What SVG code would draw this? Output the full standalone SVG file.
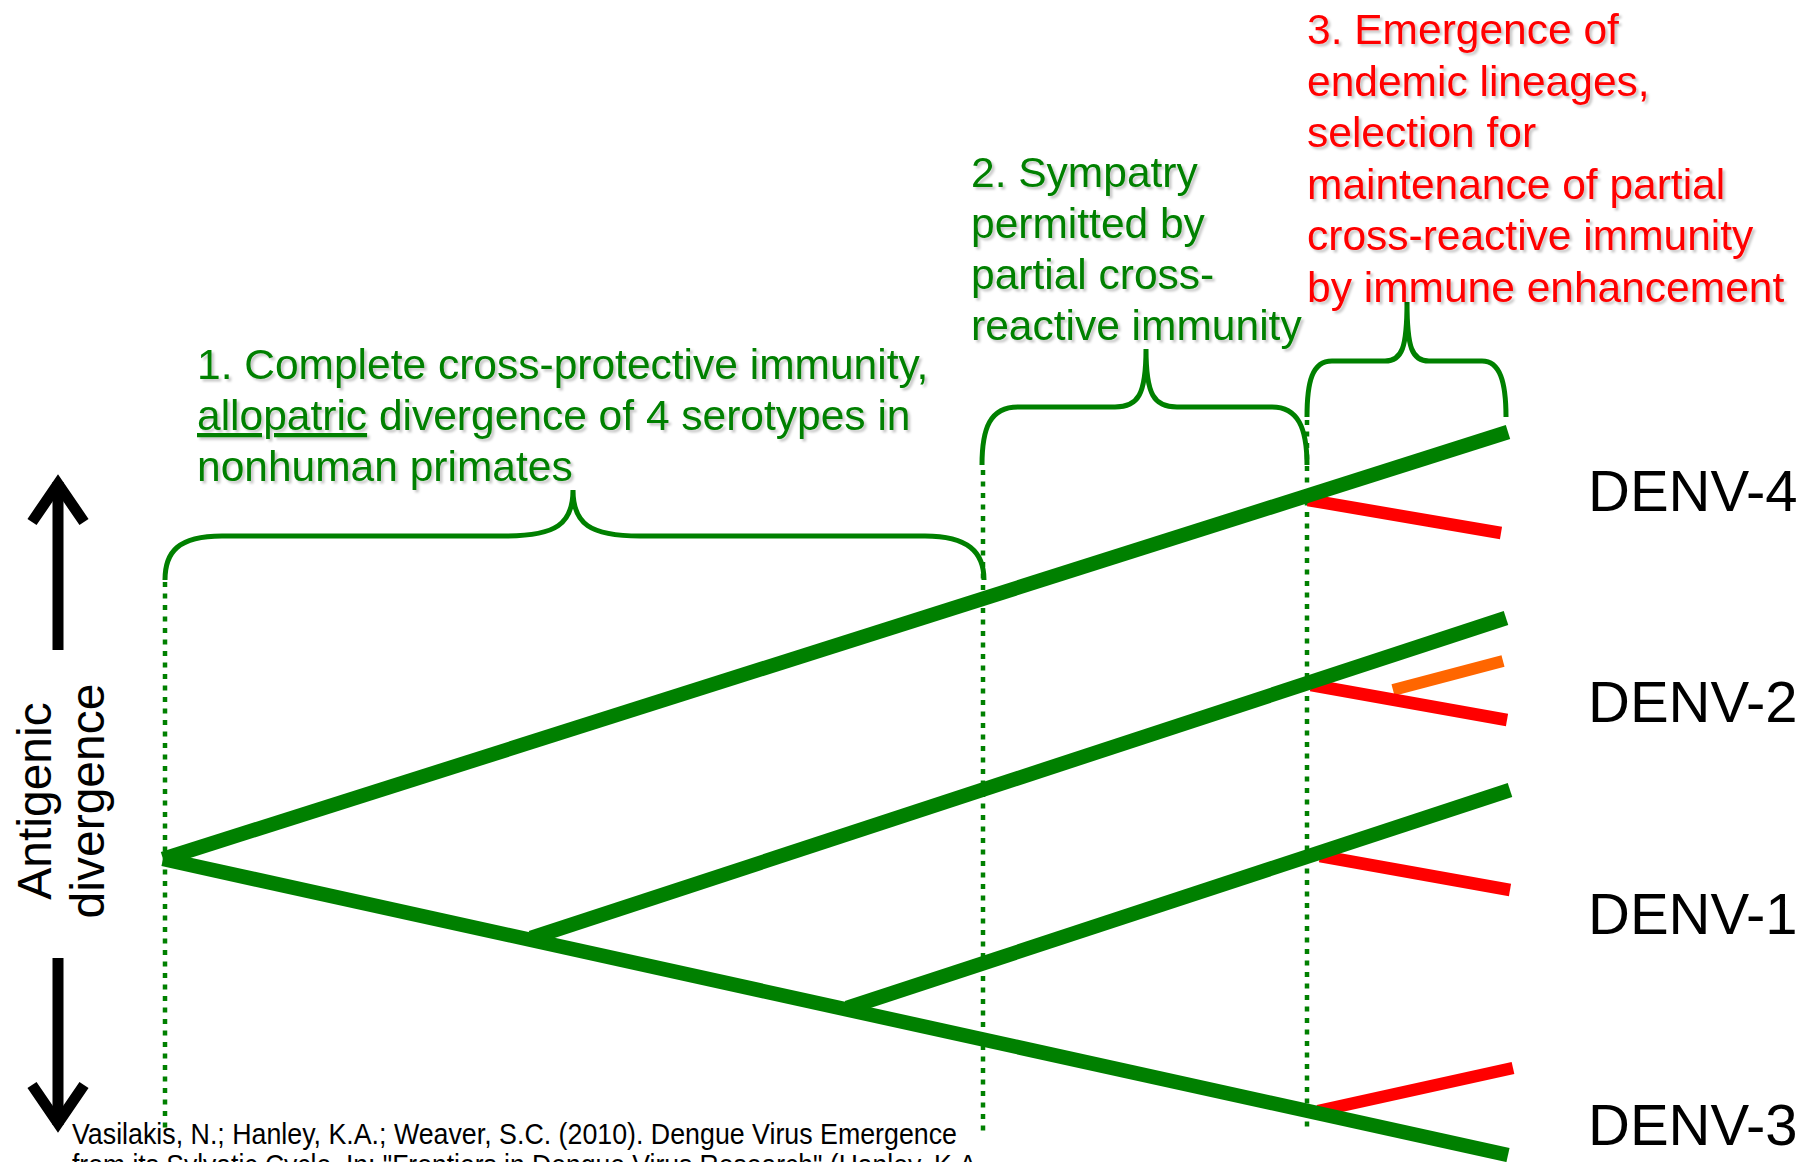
<svg xmlns="http://www.w3.org/2000/svg" width="1819" height="1162" viewBox="0 0 1819 1162">
<defs>
<filter id="sh" x="-5%" y="-5%" width="110%" height="120%">
<feDropShadow dx="2.5" dy="2.5" stdDeviation="1.2" flood-color="#000" flood-opacity="0.22"/>
</filter>
</defs>
<style>
text{font-family:"Liberation Sans",Arial,sans-serif}
.lbl{font-size:42.5px}
.g{fill:#008000}
.r{fill:#FF0000}
.denv{font-size:58px;fill:#000}
.dot{stroke:#008000;stroke-width:4.5;stroke-dasharray:5 6.5;fill:none}
.brace{stroke:#008000;stroke-width:5;fill:none;stroke-linecap:butt}
.gl{stroke:#008000;stroke-width:14.5;fill:none}
.rl{stroke:#FF0000;stroke-width:12.5;fill:none}
.ol{stroke:#FF6600;stroke-width:12;fill:none}
.arr{stroke:#000;stroke-width:11;fill:none;stroke-linejoin:miter;stroke-miterlimit:10}
</style>
<rect width="1819" height="1162" fill="#fff"/>

<g id="guides">
<line class="dot" x1="165" y1="582" x2="165" y2="1131"/>
<line class="dot" x1="983" y1="470" x2="983" y2="1131"/>
<line class="dot" x1="1307" y1="420" x2="1307" y2="1131"/>
</g>

<g id="braces">
<path id="brace1" class="brace" d="M165,580 C165,552 178,536 222,536 L505,536 C556,536 573,524 573,490 C573,524 590,536 640,536 L925,536 C968,536 984,552 984,580"/>
<path id="brace2" class="brace" d="M982,465 C982,428 990,407 1018,407 L1115,407 C1138,407 1146,395 1146,349 C1146,395 1154,407 1177,407 L1272,407 C1298,407 1307,428 1307,465"/>
<path id="brace3" class="brace" d="M1307,417 C1307,382 1312,361 1332,361 L1385,361 C1402,361 1407,348 1407,302 C1407,348 1412,361 1429,361 L1482,361 C1500,361 1506,382 1506,417"/>
</g>

<g id="connectors">
<line class="ol" x1="1393" y1="690" x2="1503" y2="661"/>
<line class="rl" x1="1308" y1="500" x2="1501" y2="533"/>
<line class="rl" x1="1311" y1="685" x2="1507" y2="720"/>
<line class="rl" x1="1320" y1="856" x2="1510" y2="890"/>
<line class="rl" x1="1318" y1="1111" x2="1513" y2="1068"/>
<line class="gl" x1="163" y1="859" x2="1508" y2="432"/>
<line class="gl" x1="163" y1="859" x2="1508" y2="1155"/>
<line class="gl" x1="531" y1="938" x2="1506" y2="618"/>
<line class="gl" x1="847" y1="1008" x2="1510" y2="790"/>
</g>

<g id="axis">
<line class="arr" x1="58" y1="650" x2="58" y2="482"/>
<polyline class="arr" points="32,522 58,484 84,522"/>
<line class="arr" x1="58" y1="958" x2="58" y2="1125"/>
<polyline class="arr" points="32,1085 58,1123 84,1085"/>
<text font-size="48" text-anchor="middle" transform="translate(51,801) rotate(-90)">Antigenic</text>
<text font-size="48" text-anchor="middle" transform="translate(104,801) rotate(-90)">divergence</text>
</g>

<g id="label1" class="lbl g" filter="url(#sh)">
<text x="197" y="379">1. Complete cross-protective immunity,</text>
<text x="197" y="430"><tspan text-decoration="underline">allopatric</tspan> divergence of 4 serotypes in</text>
<text x="197" y="481">nonhuman primates</text>
</g>

<g id="label2" class="lbl g" filter="url(#sh)">
<text x="971" y="187">2. Sympatry</text>
<text x="971" y="238">permitted by</text>
<text x="971" y="289">partial cross-</text>
<text x="971" y="340">reactive immunity</text>
</g>

<g id="label3" class="lbl r" filter="url(#sh)">
<text x="1307" y="44">3. Emergence of</text>
<text x="1307" y="95.5">endemic lineages,</text>
<text x="1307" y="147">selection for</text>
<text x="1307" y="198.5">maintenance of partial</text>
<text x="1307" y="250">cross-reactive immunity</text>
<text x="1307" y="301.5">by immune enhancement</text>
</g>

<g id="denv4"><text class="denv" x="1588" y="511">DENV-4</text></g>
<g id="denv2"><text class="denv" x="1588" y="722">DENV-2</text></g>
<g id="denv1"><text class="denv" x="1588" y="934">DENV-1</text></g>
<g id="denv3"><text class="denv" x="1588" y="1145">DENV-3</text></g>

<g id="citation">
<text x="72" y="1144" font-size="29" textLength="885" lengthAdjust="spacingAndGlyphs">Vasilakis, N.; Hanley, K.A.; Weaver, S.C. (2010). Dengue Virus Emergence</text>
<text x="72" y="1175" font-size="29" textLength="912" lengthAdjust="spacingAndGlyphs">from its Sylvatic Cycle. In: "Frontiers in Dengue Virus Research" (Hanley, K.A.</text>
</g>
</svg>
